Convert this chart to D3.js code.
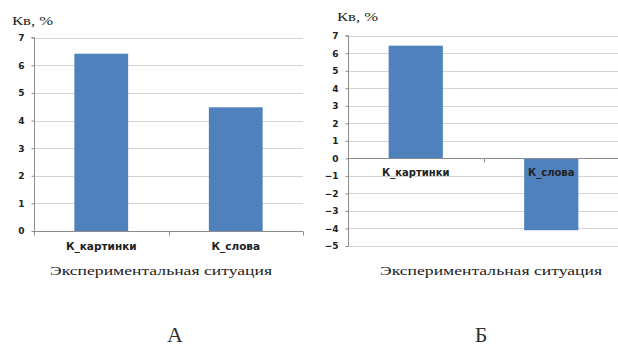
<!DOCTYPE html>
<html>
<head>
<meta charset="utf-8">
<script src="https://cdn.jsdelivr.net/npm/d3@7"></script>
<style>
  html, body { margin: 0; padding: 0; background: #fff; }
  svg { display: block; }
</style>
</head>
<body>
<svg id="chart" width="618" height="346"></svg>
<script>
// Categories and values for the two panels
const categories = ["К_картинки", "К_слова"];
const valuesA = [6.42, 4.48];
const valuesB = [6.43, -4.1];
const ticksA = [0, 1, 2, 3, 4, 5, 6, 7];
const ticksB = [-5, -4, -3, -2, -1, 0, 1, 2, 3, 4, 5, 6, 7];
const yTitle = "Кв, %";
const xTitle = "Экспериментальная ситуация";
const panelLetters = ["А", "Б"];

const svg = d3.select("#chart");
const barColor = "#4f81bd";
const gridColor = "#d4d4d4";
const axisColor = "#8c8c8c";
const tickFont = "'DejaVu Sans', Verdana, sans-serif";
const serif = "'Liberation Serif', 'Times New Roman', serif";

function panel(cfg) {
  const g = svg.append("g");
  const x = d3.scaleBand().domain(categories)
    .range([cfg.x0, cfg.x1]).paddingInner(0.6).paddingOuter(0.3);
  const y = d3.scaleLinear().domain(cfg.domain).range([cfg.yBottom, cfg.yTop]);

  // horizontal gridlines
  g.append("g").selectAll("line").data(cfg.ticks).join("line")
    .attr("x1", cfg.x0).attr("x2", cfg.x1)
    .attr("y1", d => Math.round(y(d)) + 0.5).attr("y2", d => Math.round(y(d)) + 0.5)
    .attr("stroke", gridColor).attr("stroke-width", 1);

  // bars
  g.append("g").selectAll("rect").data(cfg.values).join("rect")
    .attr("x", (d, i) => x(categories[i]))
    .attr("width", x.bandwidth())
    .attr("y", d => y(Math.max(0, d)))
    .attr("height", d => Math.abs(y(d) - y(0)))
    .attr("fill", barColor);

  // value axis
  const yAxis = d3.axisLeft(y).tickValues(cfg.ticks).tickSize(3).tickPadding(7)
    .tickFormat(d3.format("d"));
  const ya = g.append("g").attr("transform", `translate(${Math.round(cfg.x0) + 0.5},0)`).call(yAxis);
  ya.select(".domain").attr("stroke", axisColor).attr("d", `M-3,${y(cfg.domain[1])}H0V${y(cfg.domain[0])}`);
  ya.selectAll(".tick line").attr("stroke", axisColor);
  ya.selectAll(".tick text").attr("font-family", tickFont).attr("font-weight", "bold")
    .attr("font-size", 9).attr("fill", "#222");

  // category axis along zero
  const y0 = Math.round(y(0)) + 0.5;
  g.append("line").attr("x1", cfg.x0).attr("x2", cfg.x1)
    .attr("y1", y0).attr("y2", y0).attr("stroke", axisColor);
  const cuts = [cfg.x0, (cfg.x0 + cfg.x1) / 2, cfg.x1];
  g.append("g").selectAll("line").data(cuts).join("line")
    .attr("x1", d => Math.round(d) + 0.5).attr("x2", d => Math.round(d) + 0.5)
    .attr("y1", y0).attr("y2", y0 + 4).attr("stroke", axisColor);

  g.append("g").selectAll("text").data(categories).join("text")
    .attr("x", d => x(d) + x.bandwidth() / 2)
    .attr("y", y0 + cfg.labelDy)
    .attr("text-anchor", "middle")
    .attr("font-family", tickFont).attr("font-weight", "bold").attr("font-size", cfg.labelSize)
    .attr("fill", "#222")
    .text(d => d);

  // titles
  g.append("text").attr("x", cfg.yTitleX).attr("y", cfg.yTitleY)
    .attr("font-family", serif).attr("font-size", 13).attr("fill", "#222")
    .attr("textLength", 41).attr("lengthAdjust", "spacingAndGlyphs")
    .text(yTitle);
  g.append("text").attr("x", cfg.xTitleX).attr("y", cfg.xTitleY)
    .attr("font-family", serif).attr("font-size", 13).attr("fill", "#222")
    .attr("textLength", 222).attr("lengthAdjust", "spacingAndGlyphs")
    .text(xTitle);
  g.append("text").attr("x", cfg.letterX).attr("y", 342)
    .attr("text-anchor", "middle")
    .attr("font-family", serif).attr("font-size", 22).attr("fill", "#333")
    .text(cfg.letter);
}

panel({
  x0: 34, x1: 303,
  domain: [0, 7], yBottom: 231, yTop: 37.7, ticks: ticksA, values: valuesA,
  labelDy: 18, labelSize: 10.5, yTitleX: 12, yTitleY: 25, xTitleX: 50, xTitleY: 275,
  letterX: 175, letter: panelLetters[0]
});
panel({
  x0: 348, x1: 619,
  domain: [-5, 7], yBottom: 246, yTop: 35.7, ticks: ticksB, values: valuesB,
  labelDy: 17.5, labelSize: 10, yTitleX: 337, yTitleY: 21, xTitleX: 380, xTitleY: 275,
  letterX: 481, letter: panelLetters[1]
});
</script>
</body>
</html>
